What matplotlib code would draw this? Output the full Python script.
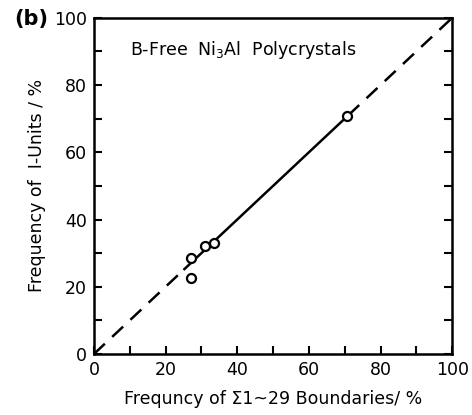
import matplotlib
matplotlib.use('Agg')
import matplotlib.pyplot as plt

# Data
sigma_freq = [27.0, 27.0, 31.0, 33.6, 70.7]
i_unit_freq = [28.7, 22.5, 32.1, 32.9, 70.8]

# Fitted line: solid over data range, dashed extensions to the corners
line_solid_x = [25, 71]
line_dash_lo_x = [0, 25]
line_dash_hi_x = [71, 100]

ticks_major = [0, 20, 40, 60, 80, 100]
ticks_minor = [10, 30, 50, 70, 90]

fig = plt.figure(figsize=(4.72, 4.15), dpi=100)
ax = fig.add_axes([0.199, 0.147, 0.759, 0.81])

ax.plot(line_solid_x, line_solid_x, color='black', lw=1.8, solid_capstyle='butt')
ax.plot(line_dash_lo_x, line_dash_lo_x, color='black', lw=1.8, dashes=(6, 4))
ax.plot(line_dash_hi_x, line_dash_hi_x, color='black', lw=1.8, dashes=(6, 4))
ax.plot(sigma_freq, i_unit_freq, 'o', ms=6.5, mfc='white', mec='black', mew=1.6, zorder=3)

ax.set_xlim(0, 100)
ax.set_ylim(0, 100)
ax.set_xticks(ticks_major)
ax.set_yticks(ticks_major)
ax.set_xticks(ticks_minor, minor=True)
ax.set_yticks(ticks_minor, minor=True)
ax.tick_params(which='both', direction='in', top=False, right=True,
               length=6, width=1.5, labelsize=12.5, pad=5)
ax.tick_params(labelright=False)
for s in ax.spines.values():
    s.set_linewidth(1.8)

ax.set_xlabel('Frequncy of Σ1~29 Boundaries/ %', fontsize=12.5, labelpad=8)
ax.set_ylabel('Frequency of  I-Units / %', fontsize=12.5, labelpad=6)

ax.text(0.1, 0.905, 'B-Free  Ni$_3$Al  Polycrystals', transform=ax.transAxes,
        fontsize=12.5, va='center')
fig.text(0.03, 0.955, '(b)', fontsize=15, fontweight='bold', va='center')

fig.savefig('out.png', dpi=100)
